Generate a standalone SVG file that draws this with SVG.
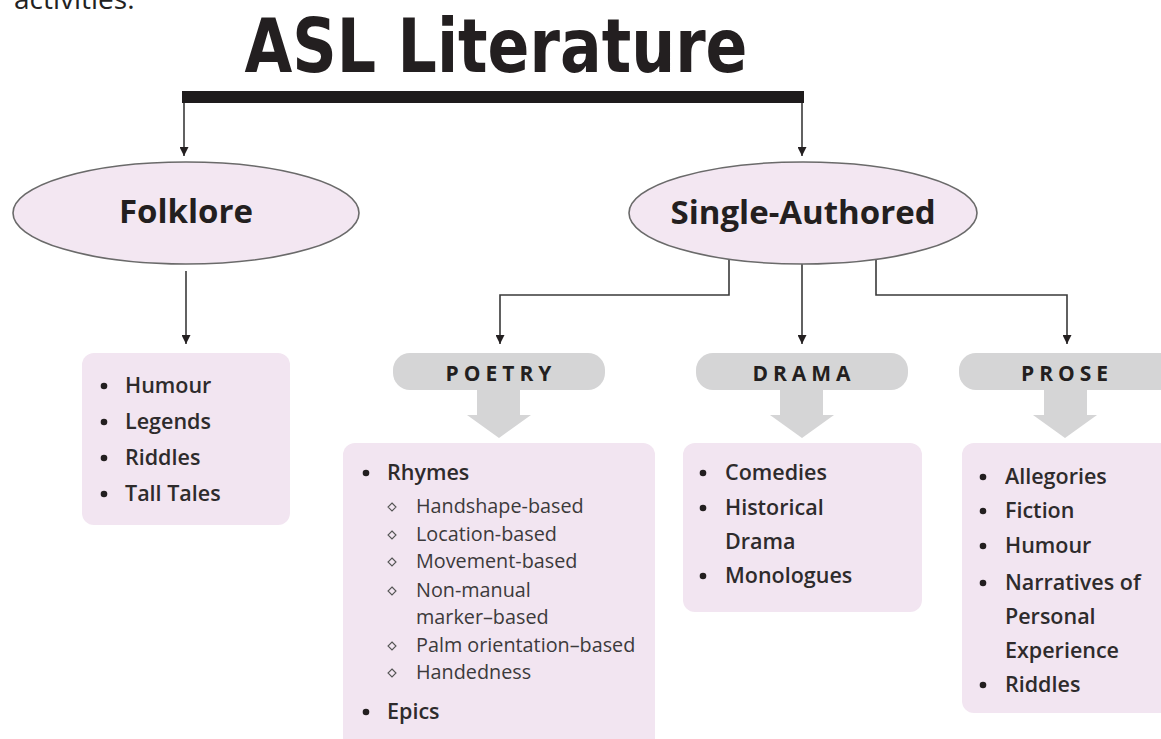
<svg xmlns="http://www.w3.org/2000/svg" width="1161" height="739" viewBox="0 0 1161 739">
<style>
.ell{fill:#f3e7f2;stroke:#6a6a6a;stroke-width:1.6}
.box{fill:#f2e5f1}
.tab{fill:#d5d5d6}
.big{fill:#d5d5d6}
.con{fill:none;stroke:#3a3a3a;stroke-width:1.6}
.etxt{font-family:"Open Sans","Liberation Sans",sans-serif;font-weight:700;font-size:33px;fill:#231f20;text-anchor:middle}
.ttxt{font-family:"Open Sans","Liberation Sans",sans-serif;font-weight:700;font-size:21px;fill:#231f20;text-anchor:middle;letter-spacing:5px}
.item{font-family:"Open Sans","Liberation Sans",sans-serif;font-weight:600;font-size:21.5px;fill:#2e2b2c}
.sub{font-family:"Open Sans","Liberation Sans",sans-serif;font-weight:400;font-size:19.8px;fill:#3c3a3b}
.dot{fill:#231f20}
.dia{fill:none;stroke:#555;stroke-width:1.1}
</style>
<defs>
<marker id="ah2" viewBox="0 0 10 10" refX="10" refY="5" markerWidth="9" markerHeight="9" markerUnits="userSpaceOnUse" orient="auto"><path d="M0,0 L10,5 L0,10 z" fill="#231f20"/></marker>
</defs>
<rect width="1161" height="739" fill="#ffffff"/>
<text x="14" y="9" font-family="Open Sans, Liberation Sans, sans-serif" font-size="28" fill="#222">activities.</text>
<g id="title">
<text x="496" y="72" font-family="DejaVu Sans Condensed, DejaVu Sans, sans-serif" font-weight="700" font-size="75" fill="#231f20" text-anchor="middle" textLength="503" lengthAdjust="spacingAndGlyphs">ASL Literature</text>
<rect x="182" y="91" width="622" height="12" fill="#1e1b1c"/>
</g>
<g id="connectors">
<line class="con" x1="184" y1="103" x2="184" y2="156" marker-end="url(#ah2)"/>
<line class="con" x1="802" y1="103" x2="802" y2="156" marker-end="url(#ah2)"/>
<line class="con" x1="186" y1="271" x2="186" y2="344" marker-end="url(#ah2)"/>
<line class="con" x1="802" y1="264" x2="802" y2="344" marker-end="url(#ah2)"/>
<polyline class="con" points="729,259 729,295 500,295 500,344" marker-end="url(#ah2)"/>
<polyline class="con" points="876,259 876,295 1067,295 1067,344" marker-end="url(#ah2)"/>
</g>
<g id="folklore">
<ellipse class="ell" cx="186" cy="213" rx="173" ry="51"/>
<text class="etxt" x="186" y="223">Folklore</text>
</g>
<g id="single-authored">
<ellipse class="ell" cx="803" cy="213" rx="174" ry="51"/>
<text class="etxt" x="803" y="224">Single-Authored</text>
</g>
<g id="folklore-list">
<rect class="box" x="82" y="353" width="208" height="172" rx="12"/>
<circle class="dot" cx="104" cy="386" r="3.3"/><text class="item" x="125" y="393">Humour</text>
<circle class="dot" cx="104" cy="422" r="3.3"/><text class="item" x="125" y="429">Legends</text>
<circle class="dot" cx="104" cy="458" r="3.3"/><text class="item" x="125" y="465">Riddles</text>
<circle class="dot" cx="104" cy="494" r="3.3"/><text class="item" x="125" y="501">Tall Tales</text>
</g>
<g id="poetry">
<rect class="tab" x="393" y="353" width="212" height="37" rx="17"/>
<text class="ttxt" x="501" y="381">POETRY</text>
<polygon class="big" points="477,390 520,390 520,415 531,415 499,438 467,415 477,415"/>
</g>
<g id="drama">
<rect class="tab" x="696" y="353" width="212" height="37" rx="17"/>
<text class="ttxt" x="804" y="381">DRAMA</text>
<polygon class="big" points="780,390 823,390 823,415 834,415 802,438 770,415 780,415"/>
</g>
<g id="prose">
<rect class="tab" x="959" y="353" width="230" height="37" rx="17"/>
<text class="ttxt" x="1067" y="381">PROSE</text>
<polygon class="big" points="1044,390 1087,390 1087,415 1097,415 1065,438 1033,415 1044,415"/>
</g>
<g id="poetry-list">
<rect class="box" x="343" y="443" width="312" height="310" rx="12"/>
<circle class="dot" cx="366" cy="473" r="3.3"/><text class="item" x="387" y="480">Rhymes</text>
<path class="dia" d="M392,508 l4,4 l-4,4 l-4,-4 z" transform="translate(0,-5)"/><text class="sub" x="416" y="513">Handshape-based</text>
<path class="dia" d="M392,508 l4,4 l-4,4 l-4,-4 z" transform="translate(0,23)"/><text class="sub" x="416" y="541">Location-based</text>
<path class="dia" d="M392,508 l4,4 l-4,4 l-4,-4 z" transform="translate(0,50)"/><text class="sub" x="416" y="568">Movement-based</text>
<path class="dia" d="M392,508 l4,4 l-4,4 l-4,-4 z" transform="translate(0,79)"/><text class="sub" x="416" y="597">Non-manual</text>
<text class="sub" x="416" y="624">marker–based</text>
<path class="dia" d="M392,508 l4,4 l-4,4 l-4,-4 z" transform="translate(0,134)"/><text class="sub" x="416" y="652">Palm orientation–based</text>
<path class="dia" d="M392,508 l4,4 l-4,4 l-4,-4 z" transform="translate(0,161)"/><text class="sub" x="416" y="679">Handedness</text>
<circle class="dot" cx="366" cy="712" r="3.3"/><text class="item" x="387" y="719">Epics</text>
</g>
<g id="drama-list">
<rect class="box" x="683" y="443" width="239" height="169" rx="12"/>
<circle class="dot" cx="703" cy="473" r="3.3"/><text class="item" x="725" y="480">Comedies</text>
<circle class="dot" cx="703" cy="508" r="3.3"/><text class="item" x="725" y="515">Historical</text>
<text class="item" x="725" y="549">Drama</text>
<circle class="dot" cx="703" cy="576" r="3.3"/><text class="item" x="725" y="583">Monologues</text>
</g>
<g id="prose-list">
<rect class="box" x="962" y="443" width="220" height="270" rx="12"/>
<circle class="dot" cx="983" cy="477" r="3.3"/><text class="item" x="1005" y="484">Allegories</text>
<circle class="dot" cx="983" cy="511" r="3.3"/><text class="item" x="1005" y="518">Fiction</text>
<circle class="dot" cx="983" cy="546" r="3.3"/><text class="item" x="1005" y="553">Humour</text>
<circle class="dot" cx="983" cy="583" r="3.3"/><text class="item" x="1005" y="590">Narratives of</text>
<text class="item" x="1005" y="624">Personal</text>
<text class="item" x="1005" y="658">Experience</text>
<circle class="dot" cx="983" cy="685" r="3.3"/><text class="item" x="1005" y="692">Riddles</text>
</g>
</svg>
